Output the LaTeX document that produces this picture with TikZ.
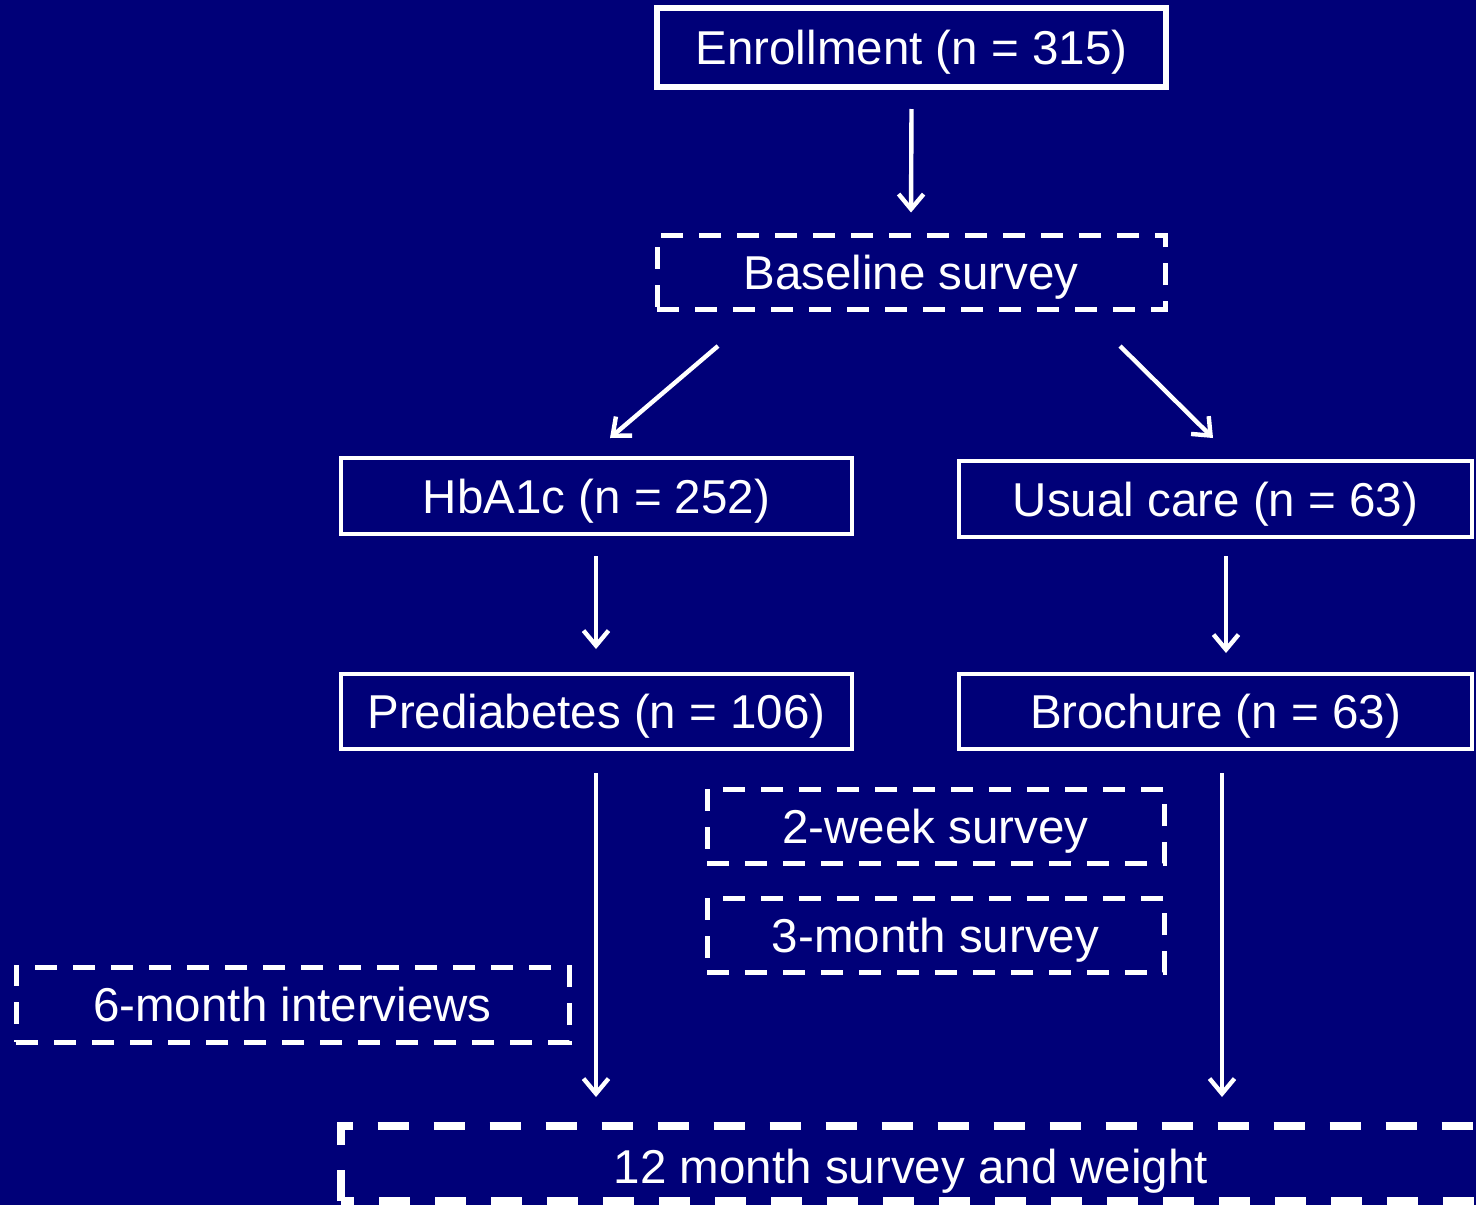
\documentclass[tikz,border=0pt]{standalone}
\usepackage{fontspec}
\setmainfont{Liberation Sans}
\usetikzlibrary{arrows.meta,calc}
\definecolor{bgnavy}{RGB}{0,0,120}
\tikzset{
  txt/.style={text=white, font=\fontsize{23.75}{28}\selectfont, text height=17pt, text depth=0pt},
  box/.style={txt, draw=white, line width=2pt, minimum width=#1*0.5pt, minimum height=38pt, inner sep=0pt},
  dbox/.style={box=#1, line width=2.5pt, dash pattern=on 11pt off 8pt},
  lbl/.style={txt, inner sep=0pt},
  arr/.style={draw=white, line width=2.2pt, -{Straight Barb[length=7.5pt,width=12.5pt,line width=2.2pt]}},
}
\begin{document}
\begin{tikzpicture}[x=0.5pt,y=-0.5pt]
\fill[bgnavy] (0,0) rectangle (1476,1205);
\useasboundingbox (0,0) rectangle (1476,1205);
\begin{scope}
\clip (0,0) rectangle (1476,1205);
\node[box=509, line width=3pt, minimum height=39.5pt] (enr) at (911.5,47.5) {Enrollment (n = 315)};
\node[dbox=508, minimum height=37pt] (base) at (911,272) {Baseline survey};
\node[box=511] (hba) at (596.5,496) {HbA1c (n = 252)};
\node[box=513] (usual) at (1215.5,499) {Usual care (n = 63)};
\node[box=511, minimum height=37.5pt] (pre) at (596.5,711.5) {Prediabetes (n = 106)};
\node[box=513, minimum height=37.5pt] (bro) at (1215.5,711.5) {Brochure (n = 63)};
\node[dbox=457, minimum height=37pt] (wk2) at (935.5,826) {2-week survey};
\node[dbox=457, minimum height=37pt] (mo3) at (935.5,935) {3-month survey};
\node[dbox=553, minimum height=37.5pt] (mo6) at (292.5,1004.5) {6-month interviews};
\node[lbl] (mo12) at (911,1166) {12 month survey and weight};
\draw[white, line width=4pt, dash pattern=on 15.5pt off 12.5pt]
  (340.5,1201) -- (340.5,1126) -- (1560,1126) -- (1560,1201) -- cycle;

\coordinate (d1s) at (718,346);
\coordinate (d1e) at (610,438);
\coordinate (d2s) at (1120,346);
\coordinate (d2e) at (1213,438);
\coordinate (p12) at (596,1097);
\coordinate (b12) at (1222,1097);

\draw[arr] ($(enr.south)+(0,19)$) -- ($(base.north)+(0,-20)$);
\draw[arr] (d1s) -- (d1e);
\draw[arr] (d2s) -- (d2e);
\draw[arr] ($(hba.south)+(-0.5,20)$) -- ($(pre.north)+(-0.5,-23)$);
\draw[arr] ($(usual.south)+(10.5,17)$) -- ($(bro.north)+(10.5,-19)$);
\draw[arr] ($(pre.south)+(-0.5,22)$) -- (p12);
\draw[arr] ($(bro.south)+(6.5,22)$) -- (b12);
\end{scope}
\end{tikzpicture}
\end{document}
